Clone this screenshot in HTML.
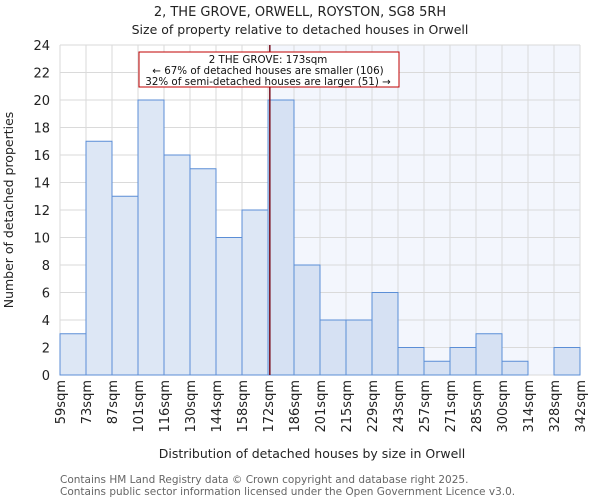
<!DOCTYPE html>
<html><head><meta charset="utf-8"><style>
body{margin:0;background:#fff;font-family:"DejaVu Sans","Liberation Sans",sans-serif}
</style></head><body>
<svg id="c" width="600" height="500" xmlns="http://www.w3.org/2000/svg" font-family="DejaVu Sans, Liberation Sans, sans-serif">
<text x="300" y="16" text-anchor="middle" font-size="13" fill="#222">2, THE GROVE, ORWELL, ROYSTON, SG8 5RH</text>
<text x="300" y="34" text-anchor="middle" font-size="12.5" fill="#222">Size of property relative to detached houses in Orwell</text>
<g id="plot"></g>
<text x="312" y="458" text-anchor="middle" font-size="12.5" fill="#222">Distribution of detached houses by size in Orwell</text>
<text transform="translate(13,210) rotate(-90)" text-anchor="middle" font-size="12.5" fill="#222">Number of detached properties</text>
<text x="60" y="483" font-size="10.5" fill="#666">Contains HM Land Registry data © Crown copyright and database right 2025.</text>
<text x="60" y="495" font-size="10.5" fill="#666">Contains public sector information licensed under the Open Government Licence v3.0.</text>
</svg>
<script>
const binLabels=["59sqm","73sqm","87sqm","101sqm","116sqm","130sqm","144sqm","158sqm","172sqm","186sqm","201sqm","215sqm","229sqm","243sqm","257sqm","271sqm","285sqm","300sqm","314sqm","328sqm","342sqm"];
const counts=[3,17,13,20,16,15,10,12,20,8,4,4,6,2,1,2,3,1,0,2];
const yTicks=[0,2,4,6,8,10,12,14,16,18,20,22,24];
const propertyBinPos=8.07;
const L=60,R=580,T=45,B=375,yMax=24;
const n=counts.length;
const xs=i=>L+(R-L)*i/n;
const ys=v=>B-(B-T)*v/yMax;
const g=document.getElementById('plot');
const NS="http://www.w3.org/2000/svg";
function mk(t,a){const e=document.createElementNS(NS,t);for(const k in a)e.setAttribute(k,a[k]);g.appendChild(e);return e;}
const px=xs(propertyBinPos);
let e=mk('rect',{x:px,y:T,width:R-px,height:B-T,fill:'#f3f6fd'});


for(let i=0;i<=n;i++){e=mk('line',{x1:xs(i),x2:xs(i),y1:T,y2:B,stroke:'#dadada','stroke-width':1});

}
yTicks.forEach(v=>{e=mk('line',{x1:L,x2:R,y1:ys(v),y2:ys(v),stroke:'#dadada','stroke-width':1});


e=mk('text',{x:L-10,y:ys(v)+5,'text-anchor':'end','font-size':13,fill:'#222'});e.textContent=v;

});
counts.forEach((v,i)=>{if(v<=0)return;e=mk('rect',{x:xs(i),y:ys(v),width:xs(i+1)-xs(i),height:B-ys(v),fill:i>=propertyBinPos-0.5?'#d6e1f3':'#dde7f5',stroke:'#5b8ed6','stroke-width':1});

});
binLabels.forEach((s,i)=>{e=mk('text',{transform:`translate(${xs(i)+5},380) rotate(-90)`,'text-anchor':'end','font-size':13,fill:'#222'});e.textContent=s;

});
e=mk('line',{x1:px,x2:px,y1:T,y2:B,stroke:'#7a1020','stroke-width':1.5});


e=mk('rect',{x:139,y:52,width:260,height:35,fill:'#fff',stroke:'#c00000','stroke-width':1});


["2 THE GROVE: 173sqm","← 67% of detached houses are smaller (106)","32% of semi-detached houses are larger (51) →"].forEach((t,k)=>{e=mk('text',{x:268,y:63+k*11,'text-anchor':'middle','font-size':10.3,fill:'#111'});e.textContent=t;

});
</script>
</body></html>
